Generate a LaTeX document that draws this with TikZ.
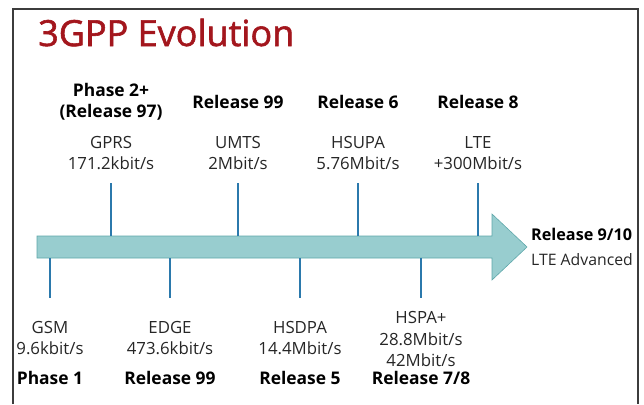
\documentclass[tikz,border=0pt]{standalone}
\usepackage{fontspec}
\setmainfont{Open Sans}
\newfontfamily\titlefont{Open Sans}[FakeBold=1.6]
\definecolor{titlered}{HTML}{A3161D}
\definecolor{arrowfill}{HTML}{98CDCF}
\definecolor{arrowline}{HTML}{5EA7AA}
\definecolor{tickblue}{HTML}{2B79AC}
\definecolor{framegray}{HTML}{3C3C3C}
\definecolor{textgray}{HTML}{262626}
\tikzset{
  techlabel/.style={anchor=base,inner sep=0pt,text=textgray,font=\fontsize{16.8}{20}\selectfont},
  rellabel/.style={anchor=base,inner sep=0pt,text=black,font=\fontsize{17.4}{20}\selectfont\bfseries},
  tick/.style={tickblue,line width=1.3pt}
}
\begin{document}
\begin{tikzpicture}[x=1pt,y=-1pt]
\useasboundingbox (0,0) rectangle (644,404);
\draw[framegray,line width=1.5pt] (13,404) -- (13,9) -- (638,9) -- (638,404);
\node[anchor=base west,inner sep=0pt,text=titlered,font=\titlefont\fontsize{36}{36}\selectfont] (title) at (38,46) {3GPP Evolution};
% the time line
\draw[arrowline,fill=arrowfill,line width=0.6pt] (37,236) -- (492,236) -- (492,214) -- (527,247)
  -- (492,280) -- (492,258) -- (37,258) -- cycle;
% releases above the line
\foreach \name/\x/\tech/\rate in {gprs/111/GPRS/171.2kbit\slash s,umts/238/UMTS/2Mbit\slash s,
    hsupa/358/HSUPA/5.76Mbit\slash s,lte/478/LTE/+300Mbit\slash s}{
  \coordinate (\name-a) at (\x,236);
  \coordinate (\name-e) at (\x,183);
  \draw[tick] (\name-a) -- (\name-e);
  \node[techlabel] (\name-t) at (\x,148) {\tech};
  \node[techlabel] (\name-r) at (\x,169) {\rate};
}
\node[rellabel] (gprs-p) at (111,96) {Phase 2+};
\node[rellabel] (gprs-q) at (111,117) {(Release 97)};
\foreach \name/\x/\rel in {umts/238/99,hsupa/358/6,lte/478/8}
  \node[rellabel] (\name-p) at (\x,108) {Release \rel};
% releases below the line
\foreach \name/\x/\tech/\rate/\rel in {gsm/50/GSM/9.6kbit\slash s/Phase 1,edge/170/EDGE/473.6kbit\slash s/Release 99,
    hsdpa/300/HSDPA/14.4Mbit\slash s/Release 5}{
  \coordinate (\name-a) at (\x,258);
  \coordinate (\name-e) at (\x,298);
  \draw[tick] (\name-a) -- (\name-e);
  \node[techlabel] (\name-t) at (\x,333) {\tech};
  \node[techlabel] (\name-r) at (\x,354) {\rate};
  \node[rellabel] (\name-p) at (\x,384) {\rel};
}
\coordinate (hspa-a) at (421,258);
\coordinate (hspa-e) at (421,298);
\draw[tick] (hspa-a) -- (hspa-e);
\node[techlabel] (hspa-t) at (421,323) {HSPA+};
\node[techlabel] (hspa-r) at (421,345) {28.8Mbit/s};
\node[techlabel] (hspa-s) at (421,366) {42Mbit/s};
\node[rellabel] (hspa-p) at (421,384) {Release 7/8};
% end of the arrow
\node[rellabel,anchor=base west,font=\fontsize{16.2}{20}\selectfont\bfseries] (adv-p) at (531,240) {Release 9/10};
\node[techlabel,anchor=base west,font=\fontsize{15.8}{20}\selectfont] (adv-t) at (531,265) {LTE Advanced};
\end{tikzpicture}
\end{document}
